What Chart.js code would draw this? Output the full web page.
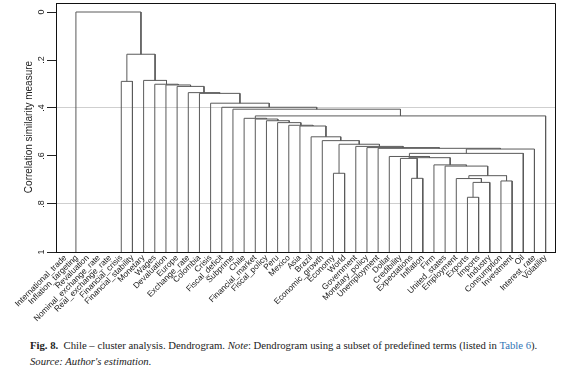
<!DOCTYPE html>
<html><head><meta charset="utf-8">
<script src="https://cdn.jsdelivr.net/npm/chart.js@4/dist/chart.umd.min.js"></script>
<style>
html,body{margin:0;padding:0;background:#fff;}
#wrap{position:relative;width:580px;height:371px;overflow:hidden;background:#fff;}
#c{position:absolute;left:0;top:0;}
#cap{position:absolute;left:30px;top:337px;font-family:"Liberation Serif",serif;font-size:10.7px;color:#222;line-height:16px;white-space:nowrap;}
#cap .t{color:#2f74b5;}
</style></head><body>
<div id="wrap"><canvas id="c" width="580" height="335"></canvas>
<div id="cap"><b>Fig. 8.</b>&nbsp; Chile – cluster analysis. Dendrogram. <i>Note</i>: Dendrogram using a subset of predefined terms (listed in <span class="t">Table 6</span>).<br><i>Source: Author's estimation.</i></div></div>
<script>
// ---- data ----
const leafLabels = ['International_trade','Inflation_targeting','Revaluation','Nominal_exchange_rate','Real_exchange_rate','Financial_crisis','Financial_stability','Monetary','Wages','Devaluation','Europe','Exchange_rate','Colombia','Crisis','Fiscal_deficit','Subprime','Chile','Financial_market','Fiscal_policy','Peru','Mexico','Asia','Brazil','Economic_growth','Economy','World','Government','Monetary_policy','Unemployment','Dollar','Credibility','Expectations','Inflation','Firm','United_states','Employment','Exports','Imports','Industry','Consumption','Investment','Oil','Interest_rate','Volatility'];
// merges: ids 0..43 are leaves, 44+ are merges in order
const mergeLeft  = [3,2,1,0,36,48,35,39,50,34,33,31,30,56,29,58,59,28,27,26,24,64,23,22,21,20,19,18,17,16,73,15,14,13,12,11,10,9,8,7,5,84,47];
const mergeRight = [4,44,45,46,37,38,49,40,51,52,53,32,55,54,57,41,42,60,61,62,25,63,65,66,67,68,69,70,71,72,43,74,75,76,77,78,79,80,81,82,6,83,85];
const mergeHeight= [1,1,1,1,0.772,0.710,0.694,0.704,0.682,0.642,0.637,0.693,0.610,0.607,0.602,0.589,0.571,0.568,0.565,0.560,0.672,0.551,0.536,0.520,0.475,0.472,0.461,0.453,0.446,0.443,0.433,0.405,0.397,0.380,0.339,0.336,0.310,0.304,0.301,0.285,0.289,0.176,0.0];
const yTickValues = [0,0.2,0.4,0.6,0.8,1];
const yTickLabels = ['0','.2','.4','.6','.8','1'];
const yGridValues = [0.4,0.8];
const yTitle = 'Correlation similarity measure';

// ---- layout of dendrogram (data space) ----
const n = leafLabels.length;
const pos = [], hgt = [];
for (let i = 0; i < n; i++) { pos.push(i + 1); hgt.push(1); }
const datasets = [];
for (let k = 0; k < mergeLeft.length; k++) {
  const l = mergeLeft[k], r = mergeRight[k], h = mergeHeight[k];
  const flat = (h === 1 && hgt[l] === 1 && hgt[r] === 1); // lies on the axis: hidden as in the original
  datasets.push({
    data: [{x: pos[l], y: hgt[l]}, {x: pos[l], y: h}, {x: pos[r], y: h}, {x: pos[r], y: hgt[r]}],
    showLine: true, borderColor: '#5a5a5a', borderWidth: flat ? 0 : 1, pointRadius: 0, tension: 0, fill: false
  });
  pos.push((pos[l] + pos[r]) / 2); hgt.push(h);
}

const decor = {
  id: 'decor',
  afterDraw(chart) {
    const ctx = chart.ctx, a = chart.chartArea, ys = chart.scales.y;
    ctx.save();
    ctx.strokeStyle = '#111'; ctx.lineWidth = 1;
    ctx.beginPath();
    ctx.moveTo(a.left, a.top + 0.5); ctx.lineTo(a.right + 0.5, a.top + 0.5);
    ctx.lineTo(a.right + 0.5, a.bottom);
    ctx.stroke();
    ctx.fillStyle = '#222';
    ctx.font = '9px "Liberation Sans", Arial, sans-serif';
    ctx.textAlign = 'center'; ctx.textBaseline = 'middle';
    yTickValues.forEach((v, i) => {
      const py = ys.getPixelForValue(v);
      ctx.save(); ctx.translate(42, py); ctx.rotate(-Math.PI / 2);
      ctx.fillText(yTickLabels[i], 0, 0); ctx.restore();
    });
    ctx.font = '10px "Liberation Sans", Arial, sans-serif';
    ctx.save(); ctx.translate(29, (ys.getPixelForValue(0) + ys.getPixelForValue(1)) / 2 - 5);
    ctx.rotate(-Math.PI / 2); ctx.fillText(yTitle, 0, 0); ctx.restore();
    ctx.restore();
  }
};

new Chart(document.getElementById('c'), {
  type: 'scatter',
  data: { datasets },
  options: {
    responsive: false, animation: false,
    layout: { padding: { top: 3, right: 25, left: 0, bottom: 0 } },
    plugins: { legend: { display: false }, tooltip: { enabled: false } },
    scales: {
      x: {
        type: 'linear', min: 0.154, max: 44.84,
        afterBuildTicks(s) { s.ticks = leafLabels.map((_, i) => ({ value: i + 1 })); },
        afterFit(s) { s.height = 83; s.paddingLeft = 0; s.paddingRight = 0; },
        ticks: {
          autoSkip: false, minRotation: 45, maxRotation: 45, padding: 1,
          color: '#222', font: { family: '"Liberation Sans", Arial, sans-serif', size: 8.3 },
          callback: (v) => leafLabels[Math.round(v) - 1]
        },
        grid: { display: false, drawTicks: false },
        border: { display: true, color: '#111', width: 1 }
      },
      y: {
        type: 'linear', reverse: true, min: -0.0375, max: 1,
        afterBuildTicks(s) { s.ticks = yTickValues.map(v => ({ value: v })); },
        afterFit(s) { s.width = 56; },
        ticks: { display: false },
        grid: {
          display: true, drawTicks: true, tickLength: 9,
          color: (c) => (c.tick && yGridValues.includes(c.tick.value)) ? '#cfcfcf' : 'rgba(0,0,0,0)',
          tickColor: '#222', lineWidth: 1
        },
        border: { display: true, color: '#111', width: 1 }
      }
    }
  },
  plugins: [decor]
});
</script>
</body></html>
